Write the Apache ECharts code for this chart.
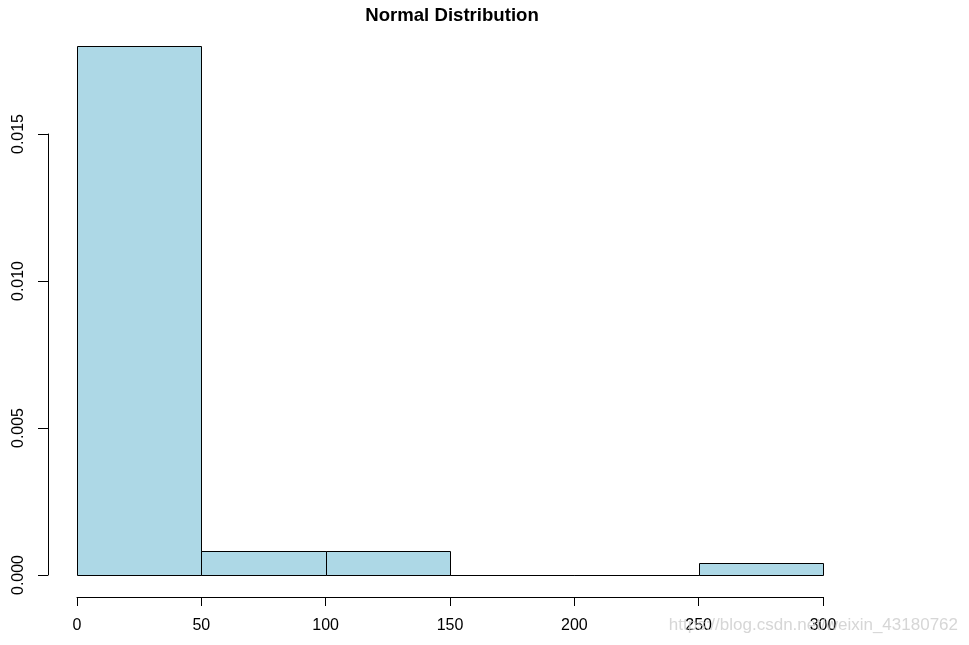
<!DOCTYPE html>
<html>
<head>
<meta charset="utf-8">
<script src="https://cdn.jsdelivr.net/npm/echarts@6/dist/echarts.min.js"></script>
<style>html,body{margin:0;padding:0;background:#fff;}#c{width:969px;height:645px;}</style>
</head>
<body>
<div id="c"></div>
<script>
// Data (R histogram, density scale)
var binStarts = [0, 50, 100, 150, 200, 250];
var binEnds = [50, 100, 150, 200, 250, 300];
var densities = [0.018, 0.0008, 0.0008, 0, 0, 0.0004];
var xTicks = [0, 50, 100, 150, 200, 250, 300];
var yTicks = [0, 0.005, 0.010, 0.015];
var titleText = 'Normal Distribution';
var watermark = 'https://blog.csdn.net/weixin_43180762';

var font = 'Liberation Sans, Arial, sans-serif';
var chart = echarts.init(document.getElementById('c'), null, {renderer: 'canvas'});

var histData = binStarts.map(function (s, i) { return [s, binEnds[i], densities[i]]; });

function crisp(v) { return Math.round(v) + 0.5; }

var option = {
  backgroundColor: '#fff',
  animation: false,
  title: {
    text: titleText,
    left: 447,
    top: 1,
    textAlign: 'center',
    textStyle: {fontFamily: font, fontSize: 18.6, fontWeight: 'bold', color: '#000'}
  },
  grid: [
    {left: 77, right: 146, top: 46, bottom: 70, containLabel: false},
    {left: 48, right: 146, top: 134, bottom: 70, containLabel: false}
  ],
  xAxis: [
    {
      type: 'value', gridIndex: 0, min: xTicks[0], max: xTicks[xTicks.length - 1], interval: 50,
      offset: 22,
      axisLine: {show: true, onZero: false, lineStyle: {color: '#000', width: 1}},
      axisTick: {show: true, length: 9, lineStyle: {color: '#000'}},
      axisLabel: {show: true, margin: 21, fontFamily: font, fontSize: 16, color: '#000', showMinLabel: true, showMaxLabel: true},
      splitLine: {show: false}
    },
    {type: 'value', gridIndex: 1, min: 0, max: 1, show: false}
  ],
  yAxis: [
    {type: 'value', gridIndex: 0, min: 0, max: densities[0], show: false},
    {
      type: 'value', gridIndex: 1, min: yTicks[0], max: yTicks[yTicks.length - 1], interval: 0.005,
      axisLine: {show: true, onZero: false, lineStyle: {color: '#000', width: 1}},
      axisTick: {show: true, length: 10, lineStyle: {color: '#000'}},
      axisLabel: {show: true, rotate: 90, margin: 21, fontFamily: font, fontSize: 16, color: '#000',
        formatter: function (v) { return v.toFixed(3); }},
      splitLine: {show: false}
    }
  ],
  series: [{
    type: 'custom',
    xAxisIndex: 0, yAxisIndex: 0,
    data: histData,
    renderItem: function (params, api) {
      var p0 = api.coord([api.value(0), api.value(2)]);
      var p1 = api.coord([api.value(1), 0]);
      var x0 = crisp(p0[0]), x1 = crisp(p1[0]);
      var yTop = crisp(p0[1]), yBot = crisp(p1[1]);
      return {
        type: 'rect',
        shape: {x: x0, y: yTop, width: x1 - x0, height: Math.max(yBot - yTop, 0)},
        style: {fill: '#ADD8E6', stroke: '#000', lineWidth: 1}
      };
    }
  }],
  graphic: [{
    type: 'text',
    right: 11,
    top: 617,
    z: 100,
    style: {text: watermark, fontFamily: font, fontSize: 17, fill: 'rgba(200,200,200,0.75)'}
  }]
};
chart.setOption(option);
</script>
</body>
</html>
